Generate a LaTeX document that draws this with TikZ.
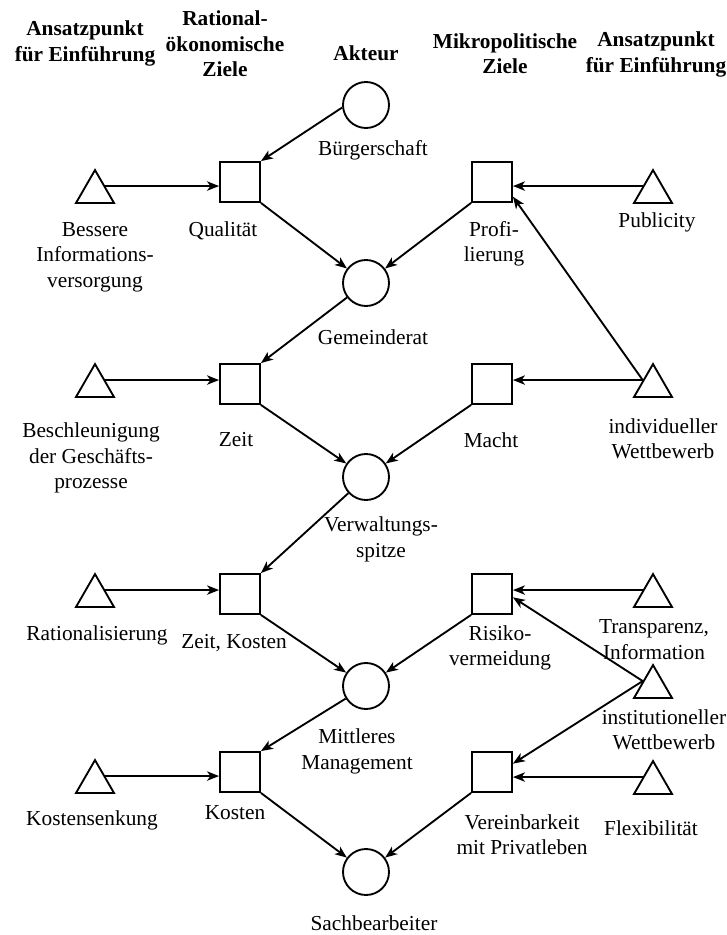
\documentclass[tikz,border=0pt]{standalone}
\usepackage{fontspec}
\setmainfont{Liberation Serif}
\usetikzlibrary{arrows.meta,shapes.geometric,calc}
\tikzset{
  lbl/.style={font=\fontsize{16}{19}\selectfont, align=center, inner sep=0pt},
  hdr/.style={font=\fontsize{16}{19}\selectfont\bfseries, align=center, inner sep=0pt},
  actor/.style={circle, draw, line width=1.4pt, minimum size=34.5pt, inner sep=0pt},
  goal/.style={rectangle, draw, line width=1.4pt, minimum size=30pt, inner sep=0pt},
  lever/.style={regular polygon, regular polygon sides=3, draw, line width=1.4pt, minimum size=32.9pt, inner sep=0pt},
  arr/.style={-{Stealth[length=9pt,width=7pt,inset=2.5pt]}, line width=1.4pt},
}
\begin{document}
\begin{tikzpicture}[x=0.75pt,y=-0.75pt]
\useasboundingbox (0,0) rectangle (727,935);
% headers
\node[hdr] (h1) at (85,43.5) {Ansatzpunkt\\für Einführung};
\node[hdr] (h2) at (225,44) {Rational-\\ökonomische\\Ziele};
\node[hdr] (h3) at (366,53) {Akteur};
\node[hdr] (h4) at (505,53.5) {Mikropolitische\\Ziele};
\node[hdr] (h5) at (656,54.5) {Ansatzpunkt\\für Einführung};
% actors
\node[actor] (a1) at (366,105) {};
\node[actor] (a2) at (366,283) {};
\node[actor] (a3) at (366,477) {};
\node[actor] (a4) at (366,686) {};
\node[actor] (a5) at (366,872) {};
% rational goals
\node[goal] (q1) at (240,182) {};
\node[goal] (q2) at (240,384) {};
\node[goal] (q3) at (240,594) {};
\node[goal] (q4) at (240,772) {};
% micropolitical goals
\node[goal] (p1) at (492,182) {};
\node[goal] (p2) at (492,384) {};
\node[goal] (p3) at (492,594) {};
\node[goal] (p4) at (492,772) {};
% left levers
\node[lever] (t1) at (95,192) {};
\node[lever] (t2) at (95,386) {};
\node[lever] (t3) at (95,596) {};
\node[lever] (t4) at (95,782) {};
% right levers
\node[lever] (r1) at (653,192) {};
\node[lever] (r2) at (653,386) {};
\node[lever] (r3) at (653,596) {};
\node[lever] (r3b) at (653,687) {};
\node[lever] (r4) at (653,783) {};
% labels
\node[lbl] (la1) at (373,150) {Bürgerschaft};
\node[lbl] (la2) at (373,337) {Gemeinderat};
\node[lbl] (la3) at (381,539.5) {Verwaltungs-\\spitze};
\node[lbl] (la4) at (357,751.5) {Mittleres\\Management};
\node[lbl] (la5) at (374,923) {Sachbearbeiter};
\node[lbl] (lt1) at (95,257) {Bessere\\Informations-\\versorgung};
\node[lbl] (lt2) at (91,458) {Beschleunigung\\der Geschäfts-\\prozesse};
\node[lbl] (lt3) at (97,635) {Rationalisierung};
\node[lbl] (lt4) at (92,820) {Kostensenkung};
\node[lbl] (lq1) at (223,231) {Qualität};
\node[lbl] (lq2) at (236,440) {Zeit};
\node[lbl] (lq3) at (234,643) {Zeit, Kosten};
\node[lbl] (lq4) at (235,813) {Kosten};
\node[lbl] (lp1) at (494,243.5) {Profi-\\lierung};
\node[lbl] (lp2) at (491,440) {Macht};
\node[lbl] (lp3) at (500,648) {Risiko-\\vermeidung};
\node[lbl] (lp4) at (522,834.5) {Vereinbarkeit\\mit Privatleben};
\node[lbl] (lr1) at (657,222) {Publicity};
\node[lbl] (lr2) at (663,438.5) {individueller\\Wettbewerb};
\node[lbl] (lr3) at (654,639.5) {Transparenz,\\Information};
\node[lbl] (lr3b) at (664,730) {institutioneller\\Wettbewerb};
\node[lbl] (lr4) at (651,828) {Flexibilität};
% actor chain
\draw[arr] (a1.186) -- (q1.north east);
\draw[arr] (q1.south east) -- (a2);
\draw[arr] (p1.south west) -- (a2);
\draw[arr] (a2) -- (q2.north east);
\draw[arr] (q2.south east) -- (a3);
\draw[arr] (p2.south west) -- (a3);
\draw[arr] (a3) -- (q3.north east);
\draw[arr] (q3.south east) -- (a4);
\draw[arr] (p3.south west) -- (a4);
\draw[arr] (a4) -- (q4.north east);
\draw[arr] (q4.south east) -- (a5);
\draw[arr] (p4.south west) -- (a5);
% levers to goals
\draw[arr] (t1.side 3) -- (t1.side 3 -| q1.west);
\draw[arr] (t2.side 3) -- (t2.side 3 -| q2.west);
\draw[arr] (t3.side 3) -- (t3.side 3 -| q3.west);
\draw[arr] (t4.side 3) -- (t4.side 3 -| q4.west);
\draw[arr] (r1.side 1) -- (r1.side 1 -| p1.east);
\draw[arr] (r2.side 1) -- (r2.side 1 -| p2.east);
\draw[arr] (r3.side 1) -- (r3.side 1 -| p3.east);
\draw[arr] (r4.side 1) -- (r4.side 1 -| p4.east);
\coordinate (pin1) at ($(p1.south east)!0.15!(p1.north east)$);
\coordinate (pin3) at ($(p3.south east)!0.42!(p3.north east)$);
\coordinate (pin4) at ($(p4.south east)!0.7!(p4.north east)$);
\draw[arr] (r2.side 1) -- (pin1);
\draw[arr] (r3b.side 1) -- (pin3);
\draw[arr] (r3b.side 1) -- (pin4);
\end{tikzpicture}
\end{document}
